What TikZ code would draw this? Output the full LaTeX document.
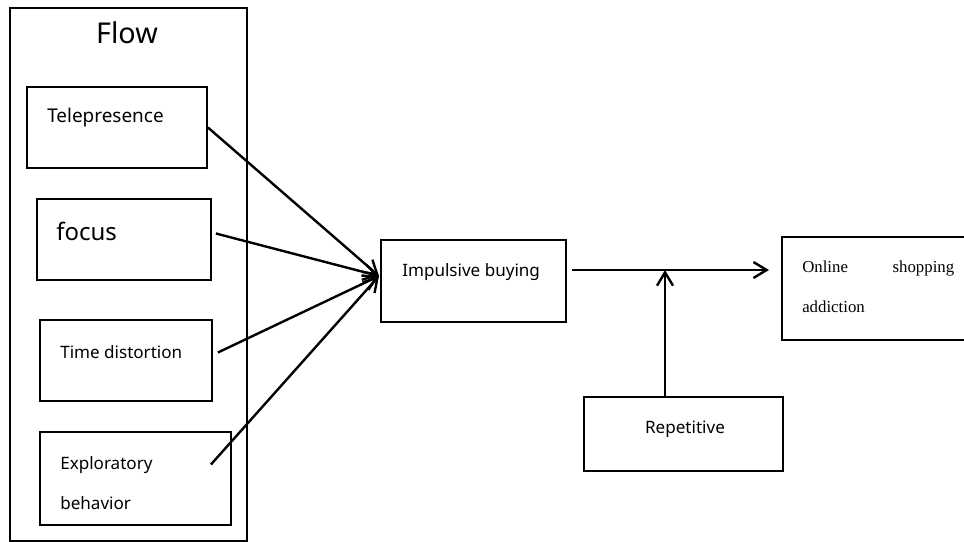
\documentclass[tikz,border=0pt]{standalone}
\usepackage{fontspec}
\setmainfont{Noto Sans}
\newfontfamily\timesfont{Liberation Serif}
\usetikzlibrary{fit}
\usetikzlibrary{positioning}
\usetikzlibrary{arrows.meta}
\usetikzlibrary{calc}

\begin{document}
\begin{tikzpicture}[x=0.75pt,y=-0.75pt,
        box/.style={draw,line width=1.4pt,inner sep=0pt},
        lbl/.style={anchor=west,inner sep=0pt,font=\fontsize{12.8}{15}\selectfont},
        arr/.style={line width=1.8pt,-{Straight Barb[length=10pt,width=12pt,line width=1.8pt]}}]
    \useasboundingbox (0,0) rectangle (964,542);

    % flow group
    \node[box,fit={(10,8) (247,541)}] (flow) {};
    \node[font=\fontsize{21.5}{24}\selectfont] (flowtxt) at (127,33) {Flow};

    \node[box,fit={(27,87) (207,168)}] (tele) {};
    \node[lbl,font=\fontsize{14.2}{16}\selectfont] (teletxt) at (47,118) {Telepresence};
    \node[box,fit={(37,199) (211,280)}] (focus) {};
    \node[lbl,font=\fontsize{18}{21}\selectfont] (focustxt) at (56,231) {focus};
    \node[box,fit={(40,320) (212,401)}] (time) {};
    \node[lbl] (timetxt) at (60,352) {Time distortion};
    \node[box,fit={(40,432) (231,525)}] (expl) {};
    \node[lbl,align=left] (expltxt) at (60,483)
        {Exploratory\\[15pt]behavior};

    % middle and right
    \node[box,fit={(381,240) (566,322)}] (imp) {};
    \node[lbl] (imptxt) at (402,272) {Impulsive buying};
    \node[box,fit={(782,237) (970,340)}] (online) {};
    \node[anchor=north west,inner sep=0pt,text width=114pt,align=left,
        font=\timesfont\fontsize{12.6}{30}\selectfont] (onlinetxt) at (802,261)
        {Online\hfill shopping\\addiction};
    \node[box,fit={(584,397) (783,471)}] (rep) {};
    \node[font=\fontsize{12.8}{15}\selectfont] (reptxt) at (685,429) {Repetitive};

    \coordinate (join) at (665,270);
    \coordinate (impin) at (379,276);

    \draw[arr] (tele.east) -- (impin);
    \draw[arr] ($(focus.east)+(4,-6)$) -- (impin);
    \draw[arr] ($(time.east)+(5,-8)$) -- (impin);
    \draw[arr] ($(expl.east)+(-21,-14)$) -- (impin);
    \draw[arr] ($(imp.east |- join)+(5,0)$) -- ($(online.west |- join)+(-12,0)$);
    \draw[arr] (join |- rep.north) -- (join);
\end{tikzpicture}
\end{document}
